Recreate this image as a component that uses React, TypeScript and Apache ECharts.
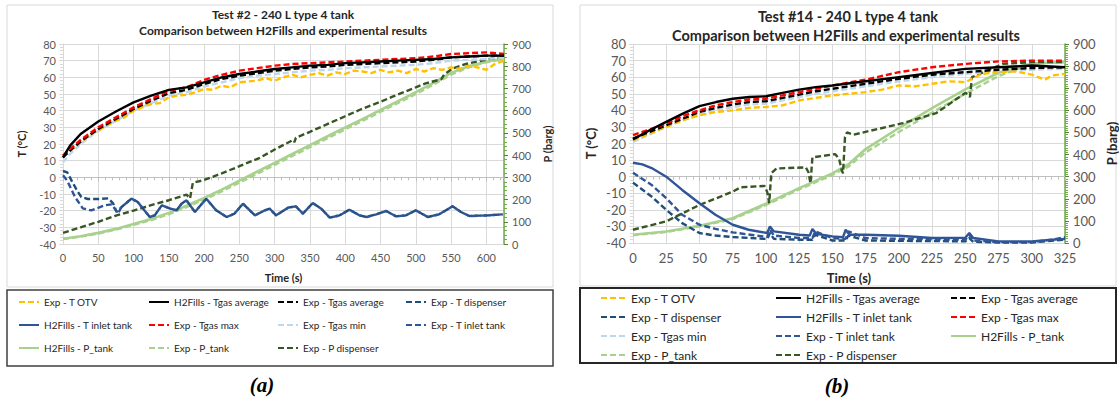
import React, { useEffect, useRef } from "react";
import * as echarts from "echarts";

const FONT = "Lato, 'Open Sans', sans-serif";

// ---------- Panel (a): Test #2 ----------
const tA = [0, 10, 25, 50, 75, 100, 125, 150, 175, 200, 225, 250, 275, 300, 325, 350, 375, 400, 425, 450, 475, 500, 525, 550, 575, 600, 625];
const aH2TgasAvg = [12, 19, 26, 33.5, 39.5, 45, 49, 52.5, 54, 57, 60, 62, 63.5, 65, 66, 67, 67.5, 68.5, 69, 69.5, 70, 70.5, 71, 72, 72.5, 73, 73];
const aExpTgasMax = [13, 17, 22.5, 30, 36, 42, 47, 52, 54, 58.5, 61.5, 64, 65.5, 67, 68, 68.5, 69, 69.5, 70, 70.5, 71, 71.5, 72.5, 74, 74.5, 75, 74];
const aExpTgasAvg = [12, 16, 21.5, 29, 35, 41, 46, 50.5, 52.5, 56, 59, 61, 62.5, 64, 65, 66, 66.5, 67.5, 68, 68.5, 69, 69.5, 70.5, 72, 72.5, 73, 73];
const aExpTgasMin = [9, 14, 20, 28, 34, 40, 44.5, 49, 51, 54.5, 57, 59.5, 61, 62, 63, 64, 64.5, 65.5, 66, 66.5, 67, 67.5, 68.5, 70, 70.5, 71, 72];

const tOtvA = [0, 10, 25, 40, 50, 62, 75, 87, 100, 112, 125, 137, 150, 162, 175, 187, 200, 212, 225, 237, 250, 262, 275, 287, 300, 312, 325, 337, 350, 362, 375, 387, 400, 412, 425, 437, 450, 462, 475, 487, 500, 512, 525, 537, 550, 562, 575, 587, 600, 612, 625];
const aExpTotv = [12, 16, 21, 26, 28, 31, 34, 36, 40, 42, 44, 44.5, 48, 49, 49.5, 51, 53, 52.5, 55, 54, 57, 57.5, 58, 59.5, 58, 60, 61.5, 60, 61.5, 62.5, 61, 63, 62, 64, 63.5, 62.5, 64.5, 63, 64, 62.5, 65, 63.5, 65.5, 64.5, 66, 65, 67, 66, 64.5, 68, 70];

const tDispStartA = [0, 6, 12, 20, 26, 35, 50, 64, 71, 76];
const aDispStart = [3.8, 3, -1.8, -8, -11.8, -13, -13, -12.6, -15.6, -20.8];
const tInletStartA = [0, 6, 17, 28, 40, 59, 69, 78];
const aInletStart = [1.2, -2, -11.8, -18.6, -19.8, -16.8, -16.2, -21.6];
const tWiggleA = [83, 97, 106, 113, 123, 130, 140, 151, 161, 168, 175, 187, 203, 217, 232, 243, 255, 272, 286, 293, 302, 319, 330, 340, 354, 366, 378, 392, 406, 420, 430, 444, 458, 472, 486, 500, 517, 533, 552, 564, 576, 590, 604, 623];
const aWiggle = [-17.8, -12.8, -14.8, -18.6, -23.8, -22.8, -16.8, -18.6, -19.8, -15.8, -13.8, -20.8, -12.8, -19.8, -23.8, -21.8, -15.8, -22.8, -19.8, -18.8, -22.8, -18.2, -17.4, -21.8, -15.4, -18.8, -24.2, -22.8, -19.4, -22.8, -23.8, -22.2, -20.2, -23.4, -22.8, -19.8, -23.8, -22.2, -17.4, -20.8, -23.2, -23, -22.8, -22.2];

const tPA = [0, 25, 50, 75, 100, 125, 150, 175, 200, 225, 250, 275, 300, 325, 350, 375, 400, 425, 450, 475, 500, 525, 550, 575, 600, 625];
const aH2Ptank = [24, 35, 50, 68, 90, 113, 140, 172, 207, 245, 285, 325, 365, 405, 445, 485, 525, 563, 603, 643, 683, 725, 770, 800, 820, 835];
const aExpPtank = [22, 33, 47, 65, 86, 108, 134, 166, 200, 237, 276, 316, 356, 396, 436, 476, 516, 555, 595, 635, 675, 717, 762, 795, 818, 832];
const tPdispA = [0, 25, 50, 75, 100, 125, 150, 175, 180, 182, 184, 200, 225, 250, 279, 300, 326, 328, 330, 350, 373, 400, 420, 450, 467, 500, 514, 536, 540, 552, 571, 600, 625];
const aExpPdisp = [50, 75, 100, 128, 150, 175, 197, 222, 205, 240, 275, 288, 318, 350, 388, 425, 468, 458, 478, 505, 537, 575, 603, 640, 663, 705, 723, 741, 762, 790, 810, 830, 845];

// ---------- Panel (b): Test #14 ----------
const tB = [0, 12.5, 25, 37.5, 50, 62.5, 75, 87.5, 100, 112.5, 125, 137.5, 150, 175, 200, 225, 250, 275, 300, 325];
const bH2TgasAvg = [22.5, 28, 33, 38, 42.5, 45, 47, 48, 48.5, 50.5, 52.5, 54, 55, 57.5, 60, 62.5, 65, 66, 67, 66];
const bExpTgasMax = [25, 28.5, 32, 36.5, 40, 43, 45, 46.5, 47, 49, 51, 53, 55, 58.5, 63, 66, 68, 69.5, 70, 70];
const bExpTgasAvg = [23, 27, 31, 35, 39, 41.5, 43.5, 45, 45.5, 47.5, 49.5, 51.5, 53, 56, 59, 61.5, 63, 64.5, 65.5, 66];
const bExpTgasMin = [21, 25.5, 30, 34, 37.5, 40, 42, 43.5, 44, 46, 48, 50, 51.5, 54.5, 57.5, 60, 62, 63.5, 64.5, 65];
const tOtvB = [0, 12.5, 25, 37.5, 50, 62.5, 75, 87.5, 100, 112.5, 125, 137.5, 150, 162.5, 175, 187.5, 200, 212.5, 225, 237.5, 250, 262.5, 275, 287.5, 300, 310, 315, 325];
const bExpTotv = [22, 26, 30, 34, 37, 39, 40, 41.5, 42, 43, 46, 47.5, 49, 50, 51, 52.5, 55, 54.5, 56, 57.5, 57, 62, 63, 63.5, 61.5, 58.5, 61, 62];

const tInletH2B = [0, 7, 14, 25, 37, 50, 62, 75, 87, 101, 103, 106, 125, 133, 135, 138, 150, 158, 160, 163, 175, 200, 225, 250, 253, 256, 275, 300, 315, 325];
const bH2Tinlet = [8.4, 7.4, 5.2, 0, -8, -16, -23, -29, -32, -34, -30, -33, -35, -35.5, -31.5, -34.5, -36, -36.5, -32, -35, -35, -35.6, -37, -36.8, -34, -37, -39, -39, -38, -37.5];
const tDispB = [0, 14, 25, 37, 50, 62, 75, 101, 103, 106, 125, 135, 137, 150, 160, 162, 175, 200, 250, 253, 256, 275, 300, 325];
const bExpTdisp = [-3.6, -12, -20, -28, -34, -35.5, -36.4, -37.6, -34, -37.5, -38, -38, -35, -38.5, -38.5, -35.5, -38.5, -38.7, -39, -37, -39.3, -39.7, -39.7, -38];
const tInletExpB = [0, 14, 25, 37, 50, 62, 75, 101, 103, 106, 125, 135, 137, 150, 160, 162, 175, 200, 250, 253, 256, 275, 300, 315, 325];
const bExpTinlet = [2.4, -5, -13, -23, -29, -31.5, -33.6, -36.4, -32, -35.5, -37, -37, -33, -37, -37.5, -33, -37, -37.5, -38, -35, -38.5, -39.5, -39.5, -38, -36.5];

const tPB = [0, 25, 50, 75, 100, 125, 150, 162, 175, 200, 225, 250, 275, 293, 303, 325];
const bH2Ptank = [37, 52, 78, 112, 178, 248, 315, 355, 425, 520, 610, 695, 770, 803, 813, 818];
const bExpPtank = [35, 50, 75, 108, 172, 242, 308, 345, 410, 502, 590, 675, 755, 795, 810, 820];
const tPdispB = [0, 25, 50, 75, 81, 99, 101, 102.5, 104, 108, 130, 132, 133.5, 135, 152, 155, 157, 158, 159.5, 161, 166, 203, 228, 250, 252, 253.5, 255, 267, 278, 300, 325];
const bExpPdisp = [60, 98, 172, 232, 252, 258, 230, 180, 315, 337, 342, 320, 270, 387, 402, 382, 330, 315, 480, 500, 490, 542, 587, 679, 672, 660, 750, 781, 810, 818, 818];

// ---------- names / colours ----------
const N = {
  otv: "Exp - T OTV",
  h2avg: "H2Fills - Tgas average",
  expavg: "Exp - Tgas average",
  disp: "Exp - T dispenser",
  h2inlet: "H2Fills - T inlet tank",
  max: "Exp - Tgas max",
  min: "Exp - Tgas min",
  expinlet: "Exp - T inlet tank",
  h2p: "H2Fills - P_tank",
  expp: "Exp - P_tank",
  pdisp: "Exp - P dispenser",
};
const C = {
  otv: "#FFC000",
  black: "#000000",
  disp: "#1F4E79",
  inlet: "#2F5597",
  max: "#FF0000",
  min: "#BDD7EE",
  pLight: "#A9D18E",
  pDark: "#375623",
};

const zip = (t: number[], v: number[]) => t.map((x, i) => [x, v[i]]);

const line = (name: string, color: string, dashed: boolean, xi: number, yi: number, data: number[][], z = 2, width = 2.4, smooth = 0) => ({
  type: "line",
  name,
  xAxisIndex: xi,
  yAxisIndex: yi,
  data,
  symbol: "none",
  showSymbol: false,
  silent: true,
  smooth,
  z,
  lineStyle: { color, width, type: dashed ? [6, 3] : "solid" },
  itemStyle: { color },
});

const xAxisCfg = (gi: number, max: number, interval: number, fs: number, minorSplit: number) => ({
  type: "value",
  gridIndex: gi,
  min: 0,
  max,
  interval,
  name: "Time (s)",
  nameLocation: "middle",
  nameGap: 28,
  nameTextStyle: { fontFamily: FONT, fontWeight: "bold", fontSize: fs, color: "#262626" },
  axisLine: { show: true, lineStyle: { color: "#BFBFBF" } },
  axisTick: { show: true, length: 4, lineStyle: { color: "#BFBFBF" } },
  minorTick: { show: true, splitNumber: minorSplit, length: 3, lineStyle: { color: "#BFBFBF" } },
  splitLine: { show: true, lineStyle: { color: "#D9D9D9" } },
  axisLabel: { fontFamily: FONT, fontSize: fs, color: "#595959", showMaxLabel: interval === 50 ? false : true, margin: 8 },
});

const yLeftCfg = (gi: number, fs: number, gap: number) => ({
  type: "value",
  gridIndex: gi,
  position: "left",
  min: -40,
  max: 80,
  interval: 10,
  name: "T (°C)",
  nameLocation: "middle",
  nameRotate: 90,
  nameGap: gap,
  nameTextStyle: { fontFamily: FONT, fontWeight: "bold", fontSize: fs, color: "#262626" },
  axisLine: { show: true, lineStyle: { color: "#D9D9D9" } },
  axisTick: { show: true, length: 4, lineStyle: { color: "#D9D9D9" } },
  minorTick: { show: true, splitNumber: 5, length: 3, lineStyle: { color: "#D9D9D9" } },
  splitLine: { show: true, lineStyle: { color: "#D9D9D9" } },
  axisLabel: { fontFamily: FONT, fontSize: fs, color: "#595959", margin: 7 },
});

const yRightCfg = (gi: number, fs: number, gap: number, minorSplit: number) => ({
  type: "value",
  gridIndex: gi,
  position: "right",
  min: 0,
  max: 900,
  interval: 100,
  name: "P (barg)",
  nameLocation: "middle",
  nameRotate: 90,
  nameGap: gap,
  nameTextStyle: { fontFamily: FONT, fontWeight: "bold", fontSize: fs, color: "#262626" },
  axisLine: { show: true, lineStyle: { color: "#70AD47", width: 1.5 } },
  axisTick: { show: true, inside: false, length: 4, lineStyle: { color: "#548235" } },
  minorTick: { show: true, splitNumber: minorSplit, length: 3, lineStyle: { color: "#70AD47" } },
  splitLine: { show: false },
  axisLabel: { fontFamily: FONT, fontSize: fs, color: "#595959", margin: 8 },
});

const legendCol = (left: number, top: number, names: string[], fs: number, gap: number, w: number) => ({
  orient: "vertical",
  left,
  top,
  padding: 0,
  data: names,
  itemWidth: w,
  itemHeight: 12,
  itemGap: gap,
  selectedMode: false,
  itemStyle: { opacity: 0 },
  textStyle: { fontFamily: FONT, fontSize: fs, color: "#262626" },
});

export default function App() {
  const ref = useRef<HTMLDivElement>(null);
  useEffect(() => {
    document.body.style.margin = "0";
    const chart = echarts.init(ref.current!, null, { renderer: "svg" });

    const seriesA = [
      line(N.h2p, C.pLight, false, 0, 1, zip(tPA, aH2Ptank), 1, 2.6),
      line(N.expp, C.pLight, true, 0, 1, zip(tPA, aExpPtank), 1, 2.4),
      line(N.pdisp, C.pDark, true, 0, 1, zip(tPdispA, aExpPdisp), 2),
      line(N.h2inlet, C.inlet, false, 0, 0, [], 2),
      line(N.disp, C.disp, true, 0, 0, zip(tDispStartA, aDispStart).concat(zip(tWiggleA, aWiggle)), 2),
      line(N.expinlet, C.inlet, true, 0, 0, zip(tInletStartA, aInletStart).concat(zip(tWiggleA, aWiggle)), 2),
      line(N.min, C.min, true, 0, 0, zip(tA, aExpTgasMin), 3),
      line(N.otv, C.otv, true, 0, 0, zip(tOtvA, aExpTotv), 3),
      line(N.expavg, C.black, true, 0, 0, zip(tA, aExpTgasAvg), 4),
      line(N.max, C.max, true, 0, 0, zip(tA, aExpTgasMax), 4),
      line(N.h2avg, C.black, false, 0, 0, zip(tA, aH2TgasAvg), 5),
    ];
    const seriesB = [
      line(N.h2p, C.pLight, false, 1, 3, zip(tPB, bH2Ptank), 1, 2.6),
      line(N.expp, C.pLight, true, 1, 3, zip(tPB, bExpPtank), 1, 2.4),
      line(N.pdisp, C.pDark, true, 1, 3, zip(tPdispB, bExpPdisp), 2),
      line(N.disp, C.disp, true, 1, 2, zip(tDispB, bExpTdisp), 2),
      line(N.expinlet, C.inlet, true, 1, 2, zip(tInletExpB, bExpTinlet), 2),
      line(N.h2inlet, C.inlet, false, 1, 2, zip(tInletH2B, bH2Tinlet), 2),
      line(N.min, C.min, true, 1, 2, zip(tB, bExpTgasMin), 3),
      line(N.otv, C.otv, true, 1, 2, zip(tOtvB, bExpTotv), 3),
      line(N.expavg, C.black, true, 1, 2, zip(tB, bExpTgasAvg), 4),
      line(N.max, C.max, true, 1, 2, zip(tB, bExpTgasMax), 4),
      line(N.h2avg, C.black, false, 1, 2, zip(tB, bH2TgasAvg), 5),
    ];

    const text = (x: number, y: number, t: string, font: string, fill = "#262626") => ({
      type: "text",
      x,
      y,
      silent: true,
      style: { text: t, font, fill, textAlign: "center", textVerticalAlign: "middle" },
    });
    const box = (x: number, y: number, w: number, h: number, stroke: string, lw: number) => ({
      type: "rect",
      silent: true,
      shape: { x, y, width: w, height: h },
      style: { fill: "none", stroke, lineWidth: lw },
    });

    chart.setOption({
      animation: false,
      backgroundColor: "#ffffff",
      grid: [
        { left: 63, top: 44, width: 441, height: 200 },
        { left: 633, top: 44, width: 437, height: 199 },
      ],
      xAxis: [xAxisCfg(0, 625, 50, 11, 5), xAxisCfg(1, 325, 25, 13, 5)],
      yAxis: [yLeftCfg(0, 11, 36), yRightCfg(0, 11, 38, 5), yLeftCfg(1, 13, 36), yRightCfg(1, 13, 40, 10)],
      legend: [
        legendCol(18, 297, [N.otv, N.h2inlet, N.h2p], 10, 13, 20),
        legendCol(148, 297, [N.h2avg, N.max, N.expp], 10, 13, 20),
        legendCol(277, 297, [N.expavg, N.min, N.pdisp], 10, 13, 20),
        legendCol(405, 297, [N.disp, N.expinlet], 10, 13, 20),
        legendCol(600, 292, [N.otv, N.disp, N.min, N.expp], 12, 7, 25),
        legendCol(775, 292, [N.h2avg, N.h2inlet, N.expinlet, N.pdisp], 12, 7, 25),
        legendCol(950, 292, [N.expavg, N.max, N.h2p], 12, 7, 25),
      ],
      graphic: [
        box(7, 5, 546, 282, "#D9D9D9", 1),
        box(7, 290, 546, 76, "#404040", 1.5),
        box(580, 5, 536, 281, "#D9D9D9", 1),
        box(580, 288, 536, 75, "#262626", 2),
        text(283, 14, "Test #2 - 240 L type 4 tank", `bold 12px ${FONT}`),
        text(283, 30, "Comparison between H2Fills and experimental results", `bold 12px ${FONT}`),
        text(848, 16, "Test #14 - 240 L type 4 tank", `bold 14.5px ${FONT}`),
        text(846, 35, "Comparison between H2Fills and experimental results", `bold 14.5px ${FONT}`),
        text(262, 385, "(a)", "italic bold 21px 'Liberation Serif', serif", "#000000"),
        text(837, 386, "(b)", "italic bold 21px 'Liberation Serif', serif", "#000000"),
      ],
      series: [...seriesA, ...seriesB],
    });
    return () => chart.dispose();
  }, []);
  return <div ref={ref} style={{ width: 1119, height: 400 }} />;
}
